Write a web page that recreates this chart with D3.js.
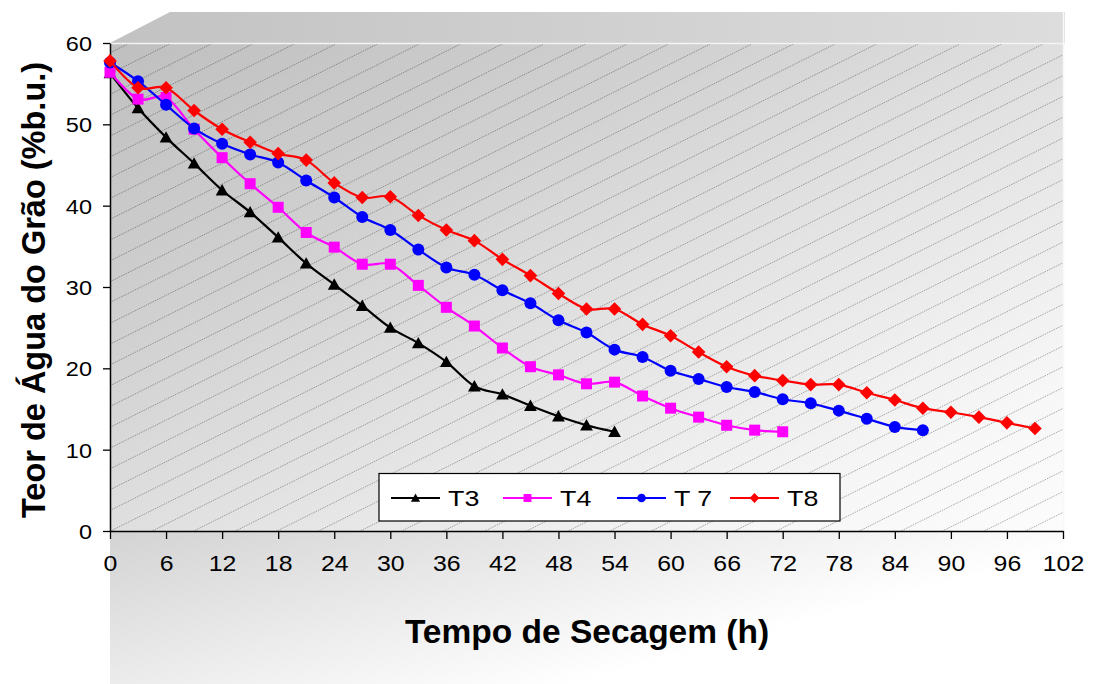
<!DOCTYPE html>
<html>
<head>
<meta charset="utf-8">
<script src="https://cdn.jsdelivr.net/npm/d3@7/dist/d3.min.js"></script>
<style>
  html, body { margin: 0; padding: 0; background: #ffffff; }
  svg { display: block; font-family: "Liberation Sans", Arial, sans-serif; }
</style>
</head>
<body>
<svg id="chart" width="1099" height="684"></svg>
<script>
// Drying time (h) and grain moisture content (% wet basis) for each treatment
const hoursT3 = d3.range(0, 55, 3);
const hoursT4 = d3.range(0, 73, 3);
const hoursT7 = d3.range(0, 88, 3);
const hoursT8 = d3.range(0, 100, 3);

const moistureT3 = [56.3, 52.0, 48.4, 45.2, 41.9, 39.2, 36.1, 32.9, 30.3, 27.7,
  25.0, 23.1, 20.8, 17.8, 16.8, 15.4, 14.1, 13.0, 12.2];
const moistureT4 = [56.4, 53.1, 53.3, 49.4, 45.9, 42.7, 39.8, 36.7, 34.9, 32.8,
  32.8, 30.2, 27.5, 25.2, 22.5, 20.2, 19.2, 18.1, 18.3, 16.6, 15.1, 14.0, 13.0, 12.4, 12.2];
const moistureT7 = [57.6, 55.3, 52.4, 49.5, 47.6, 46.3, 45.3, 43.1, 41.0, 38.6,
  37.0, 34.6, 32.4, 31.5, 29.6, 28.0, 25.9, 24.4, 22.3, 21.4, 19.7, 18.7, 17.7,
  17.1, 16.2, 15.7, 14.8, 13.8, 12.8, 12.4];
const moistureT8 = [57.8, 54.5, 54.5, 51.7, 49.4, 47.8, 46.4, 45.6, 42.8, 41.0,
  41.1, 38.8, 37.0, 35.7, 33.4, 31.4, 29.2, 27.3, 27.3, 25.4, 24.0, 22.0, 20.2,
  19.1, 18.5, 18.0, 18.0, 17.0, 16.1, 15.1, 14.6, 14.0, 13.3, 12.6];

const seriesNames = ["T3", "T4", "T 7", "T8"];
const seriesColors = ["#000000", "#ff00ff", "#0000ff", "#ff0000"];
const seriesMarkers = ["triangle", "square", "circle", "diamond"];

const xTicks = d3.range(0, 103, 6);
const yTicks = [0, 10, 20, 30, 40, 50, 60];

const xTitle = "Tempo de Secagem (h)";
const yTitle = "Teor de Água do Grão (%b.u.)";

const series = [
  { name: seriesNames[0], hours: hoursT3, values: moistureT3 },
  { name: seriesNames[1], hours: hoursT4, values: moistureT4 },
  { name: seriesNames[2], hours: hoursT7, values: moistureT7 },
  { name: seriesNames[3], hours: hoursT8, values: moistureT8 }
].map((s, i) => ({
  ...s,
  color: seriesColors[i],
  marker: seriesMarkers[i],
  points: s.hours.map((h, j) => ({ h, v: s.values[j] }))
}));

// ---- layout ----
const W = 1099, H = 684;
const plot = { left: 110, right: 1063, top: 43, bottom: 531 };
const depth = { dx: 60, dy: 31 };

const x = d3.scaleLinear().domain([0, 102]).range([plot.left, plot.right]);
const y = d3.scaleLinear().domain([0, 60]).range([plot.bottom, plot.top]);

const svg = d3.select("#chart");
const defs = svg.append("defs");

function linGrad(id, x1, y1, x2, y2, stops) {
  const g = defs.append("linearGradient").attr("id", id)
    .attr("x1", x1).attr("y1", y1).attr("x2", x2).attr("y2", y2);
  stops.forEach(([o, c]) => g.append("stop").attr("offset", o).attr("stop-color", c));
}
linGrad("wallGrad", 0, 0, 1, 1, [[0, "#bfbfbf"], [0.3, "#d0d0d0"], [0.5, "#dfdfdf"], [0.85, "#f7f7f7"], [1, "#fcfcfc"]]);
linGrad("topGrad", 0, 0, 1, 0, [[0, "#c2c2c2"], [1, "#dddddd"]]);
linGrad("floorGrad", 0, 0, 1, 0.6, [[0, "#d3d3d3"], [0.45, "#ececec"], [0.8, "#ffffff"], [1, "#ffffff"]]);

// floor band under the axis
svg.append("rect")
  .attr("x", plot.left).attr("y", plot.bottom)
  .attr("width", plot.right - plot.left).attr("height", H - plot.bottom)
  .attr("fill", "url(#floorGrad)");

// top face of the 3-D wall
svg.append("path")
  .attr("d", `M${plot.left},${plot.top} L${plot.left + depth.dx},${plot.top - depth.dy} L${plot.right + 2},${plot.top - depth.dy} L${plot.right + 2},${plot.top} Z`)
  .attr("fill", "url(#topGrad)");

// back wall
svg.append("rect")
  .attr("x", plot.left).attr("y", plot.top)
  .attr("width", plot.right - plot.left).attr("height", plot.bottom - plot.top)
  .attr("fill", "url(#wallGrad)");

// diagonal hatch over the wall
const clip = defs.append("clipPath").attr("id", "wallClip");
clip.append("rect")
  .attr("x", plot.left).attr("y", plot.top)
  .attr("width", plot.right - plot.left).attr("height", plot.bottom - plot.top);

const hatchGap = 20.8, hatchSlope = 0.5;
const hatch = svg.append("g").attr("clip-path", "url(#wallClip)");
for (let c = 3.9; c < plot.bottom + hatchSlope * plot.right + hatchGap; c += hatchGap) {
  // line: y = c - slope * x
  hatch.append("line")
    .attr("x1", plot.left).attr("y1", c - hatchSlope * plot.left)
    .attr("x2", plot.right).attr("y2", c - hatchSlope * plot.right)
    .attr("stroke", "#000").attr("stroke-opacity", 0.36)
    .attr("stroke-width", 0.9).attr("stroke-dasharray", "1.5,1");
}

// light edges of the wall
svg.append("line")
  .attr("x1", plot.left).attr("x2", plot.right + 2)
  .attr("y1", plot.top + 0.5).attr("y2", plot.top + 0.5)
  .attr("stroke", "#f4f4f4").attr("stroke-width", 1.5);
svg.append("line")
  .attr("x1", plot.right + 0.5).attr("x2", plot.right + 0.5)
  .attr("y1", plot.top - depth.dy).attr("y2", plot.bottom)
  .attr("stroke", "#f8f8f8").attr("stroke-width", 1.5);

// ---- axes ----
const xAxis = svg.append("g")
  .attr("transform", `translate(0,${plot.bottom})`)
  .call(d3.axisBottom(x).tickValues(xTicks).tickSize(8).tickPadding(16).tickSizeOuter(0));
const yAxis = svg.append("g")
  .attr("transform", `translate(${plot.left},0)`)
  .call(d3.axisLeft(y).tickValues(yTicks).tickSize(7).tickPadding(12).tickSizeOuter(0));

[xAxis, yAxis].forEach(a => {
  a.attr("font-size", null).attr("font-family", null);
  a.select(".domain").attr("stroke", "#000").attr("stroke-width", 1.5);
  a.selectAll(".tick line").attr("stroke", "#000").attr("stroke-width", 1.3);
  a.selectAll(".tick text")
    .attr("fill", "#000")
    .style("font-family", "'Liberation Sans', Arial, sans-serif");
});
xAxis.selectAll(".tick text").style("font-size", "22px").attr("transform", "scale(1.13,1)");
// right-aligned labels scaled about their right edge
yAxis.selectAll(".tick text").style("font-size", "21px").attr("dy", "0.35em")
  .attr("x", -18 / 1.12).attr("transform", "scale(1.12,1)");

// axis titles
svg.append("text")
  .attr("x", 587).attr("y", 643)
  .attr("text-anchor", "middle")
  .style("font-size", "33.5px").attr("font-weight", "bold")
  .text(xTitle);
svg.append("text")
  .attr("transform", "translate(45,290) rotate(-90)")
  .attr("text-anchor", "middle")
  .style("font-size", "32.5px").attr("font-weight", "bold")
  .text(yTitle);

// ---- markers ----
function markerPath(kind, s) {
  switch (kind) {
    case "triangle": return `M0,${-6.2 * s} L${6.4 * s},${5.2 * s} L${-6.4 * s},${5.2 * s} Z`;
    case "square": return `M${-5.5 * s},${-5.5 * s} h${11 * s} v${11 * s} h${-11 * s} Z`;
    case "circle": return d3.arc()({ innerRadius: 0, outerRadius: 6 * s, startAngle: 0, endAngle: 2 * Math.PI });
    case "diamond": return `M0,${-6.8 * s} L${6.8 * s},0 L0,${6.8 * s} L${-6.8 * s},0 Z`;
  }
}

// ---- series ----
const line = d3.line()
  .x(d => x(d.h))
  .y(d => y(d.v))
  .curve(d3.curveCardinal.tension(0));

const seriesG = svg.append("g");
series.forEach(s => {
  const g = seriesG.append("g");
  g.append("path")
    .attr("d", line(s.points))
    .attr("fill", "none")
    .attr("stroke", s.color)
    .attr("stroke-width", 2.2);
  g.selectAll("path.mk").data(s.points).join("path")
    .attr("class", "mk")
    .attr("transform", d => `translate(${x(d.h)},${y(d.v)})`)
    .attr("d", markerPath(s.marker, 1))
    .attr("fill", s.color);
});

// ---- legend ----
const legend = svg.append("g");
legend.append("rect")
  .attr("x", 379).attr("y", 473.5)
  .attr("width", 461).attr("height", 47.5)
  .attr("fill", "#ffffff").attr("stroke", "#000").attr("stroke-width", 1.2);

const legendX = [391, 503, 617, 730];
series.forEach((s, i) => {
  const g = legend.append("g").attr("transform", `translate(${legendX[i]},498)`);
  g.append("line").attr("x1", 0).attr("x2", 49).attr("y1", 0).attr("y2", 0)
    .attr("stroke", s.color).attr("stroke-width", 2.2);
  g.append("path").attr("transform", "translate(24.5,0)")
    .attr("d", markerPath(s.marker, 0.72)).attr("fill", s.color);
  g.append("text")
    .attr("transform", "translate(57,0) scale(1.22,1)")
    .attr("dy", "0.36em")
    .style("font-size", "22px")
    .text(s.name);
});
</script>
</body>
</html>
